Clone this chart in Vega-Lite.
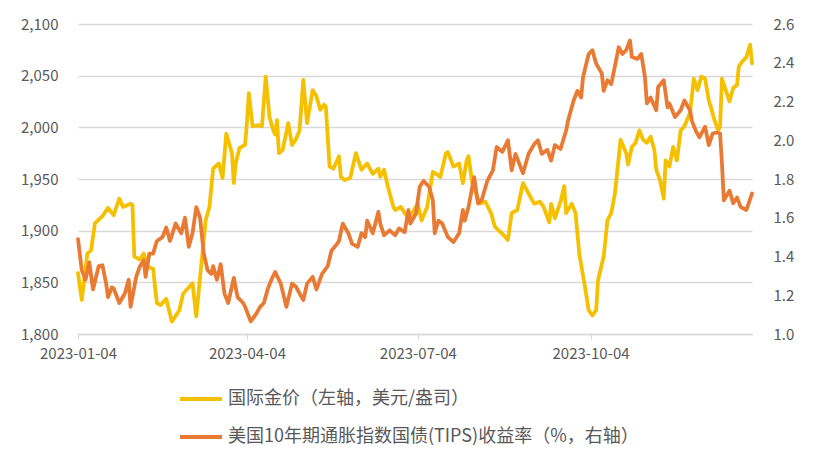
{
  "$schema": "https://vega.github.io/schema/vega-lite/v6.json",
  "width": 674,
  "height": 310,
  "autosize": {"type": "none"},
  "padding": {"left": 78, "top": 24, "right": 62, "bottom": 129},
  "background": "white",
  "config": {
    "view": {"stroke": null},
    "font": "Noto Sans CJK SC",
    "axis": {"labelFont": "Noto Sans CJK SC", "labelFontSize": 15, "labelColor": "#595959", "title": null}
  },
  "datasets": {
    "gold": [
      {"date":"2023-01-04","v":1859},{"date":"2023-01-06","v":1833},{"date":"2023-01-09","v":1878},{"date":"2023-01-11","v":1881},{"date":"2023-01-13","v":1907},{"date":"2023-01-17","v":1914},{"date":"2023-01-20","v":1922},{"date":"2023-01-23","v":1915},{"date":"2023-01-26","v":1931},{"date":"2023-01-28","v":1923},{"date":"2023-02-01","v":1926},{"date":"2023-02-02","v":1925},{"date":"2023-02-03","v":1875},{"date":"2023-02-06","v":1872},{"date":"2023-02-08","v":1878},{"date":"2023-02-10","v":1865},{"date":"2023-02-13","v":1863},{"date":"2023-02-15","v":1830},{"date":"2023-02-17","v":1828},{"date":"2023-02-20","v":1834},{"date":"2023-02-23","v":1812},{"date":"2023-02-27","v":1823},{"date":"2023-03-01","v":1839},{"date":"2023-03-03","v":1843},{"date":"2023-03-06","v":1849},{"date":"2023-03-08","v":1817},{"date":"2023-03-13","v":1910},{"date":"2023-03-15","v":1923},{"date":"2023-03-17","v":1960},{"date":"2023-03-20","v":1965},{"date":"2023-03-22","v":1951},{"date":"2023-03-24","v":1994},{"date":"2023-03-27","v":1975},{"date":"2023-03-28","v":1946},{"date":"2023-03-29","v":1965},{"date":"2023-03-31","v":1980},{"date":"2023-04-03","v":1983},{"date":"2023-04-04","v":2005},{"date":"2023-04-05","v":2033},{"date":"2023-04-07","v":2001},{"date":"2023-04-10","v":2002},{"date":"2023-04-12","v":2001},{"date":"2023-04-14","v":2049},{"date":"2023-04-16","v":2010},{"date":"2023-04-18","v":1997},{"date":"2023-04-19","v":1993},{"date":"2023-04-20","v":2007},{"date":"2023-04-21","v":1975},{"date":"2023-04-23","v":1978},{"date":"2023-04-26","v":2004},{"date":"2023-04-28","v":1983},{"date":"2023-04-30","v":1988},{"date":"2023-05-02","v":1997},{"date":"2023-05-04","v":2046},{"date":"2023-05-06","v":2004},{"date":"2023-05-09","v":2036},{"date":"2023-05-11","v":2030},{"date":"2023-05-13","v":2017},{"date":"2023-05-15","v":2022},{"date":"2023-05-16","v":2020},{"date":"2023-05-18","v":1962},{"date":"2023-05-20","v":1960},{"date":"2023-05-23","v":1972},{"date":"2023-05-24","v":1952},{"date":"2023-05-26","v":1949},{"date":"2023-05-29","v":1951},{"date":"2023-06-01","v":1975},{"date":"2023-06-04","v":1959},{"date":"2023-06-07","v":1965},{"date":"2023-06-10","v":1955},{"date":"2023-06-13","v":1960},{"date":"2023-06-14","v":1952},{"date":"2023-06-16","v":1959},{"date":"2023-06-18","v":1943},{"date":"2023-06-21","v":1923},{"date":"2023-06-22","v":1920},{"date":"2023-06-25","v":1923},{"date":"2023-06-27","v":1917},{"date":"2023-06-30","v":1910},{"date":"2023-07-01","v":1917},{"date":"2023-07-04","v":1926},{"date":"2023-07-06","v":1910},{"date":"2023-07-09","v":1923},{"date":"2023-07-12","v":1957},{"date":"2023-07-16","v":1952},{"date":"2023-07-19","v":1975},{"date":"2023-07-20","v":1976},{"date":"2023-07-23","v":1962},{"date":"2023-07-26","v":1965},{"date":"2023-07-28","v":1946},{"date":"2023-07-30","v":1968},{"date":"2023-07-31","v":1972},{"date":"2023-08-02","v":1946},{"date":"2023-08-04","v":1936},{"date":"2023-08-06","v":1926},{"date":"2023-08-09","v":1928},{"date":"2023-08-12","v":1917},{"date":"2023-08-14","v":1904},{"date":"2023-08-18","v":1897},{"date":"2023-08-21","v":1891},{"date":"2023-08-23","v":1917},{"date":"2023-08-26","v":1920},{"date":"2023-08-29","v":1946},{"date":"2023-09-01","v":1936},{"date":"2023-09-04","v":1926},{"date":"2023-09-07","v":1928},{"date":"2023-09-09","v":1923},{"date":"2023-09-12","v":1908},{"date":"2023-09-13","v":1926},{"date":"2023-09-15","v":1912},{"date":"2023-09-18","v":1928},{"date":"2023-09-20","v":1943},{"date":"2023-09-21","v":1917},{"date":"2023-09-24","v":1926},{"date":"2023-09-26","v":1917},{"date":"2023-09-28","v":1878},{"date":"2023-09-29","v":1867},{"date":"2023-10-01","v":1846},{"date":"2023-10-03","v":1823},{"date":"2023-10-05","v":1818},{"date":"2023-10-07","v":1823},{"date":"2023-10-08","v":1852},{"date":"2023-10-11","v":1875},{"date":"2023-10-13","v":1910},{"date":"2023-10-15","v":1917},{"date":"2023-10-17","v":1936},{"date":"2023-10-20","v":1988},{"date":"2023-10-23","v":1975},{"date":"2023-10-24","v":1964},{"date":"2023-10-26","v":1981},{"date":"2023-10-28","v":1985},{"date":"2023-10-30","v":1997},{"date":"2023-11-01","v":1988},{"date":"2023-11-03","v":1985},{"date":"2023-11-05","v":1991},{"date":"2023-11-07","v":1978},{"date":"2023-11-08","v":1959},{"date":"2023-11-10","v":1949},{"date":"2023-11-12","v":1931},{"date":"2023-11-13","v":1968},{"date":"2023-11-15","v":1962},{"date":"2023-11-17","v":1981},{"date":"2023-11-19","v":1968},{"date":"2023-11-21","v":1997},{"date":"2023-11-23","v":2001},{"date":"2023-11-26","v":2014},{"date":"2023-11-28","v":2047},{"date":"2023-11-30","v":2036},{"date":"2023-12-02","v":2049},{"date":"2023-12-04","v":2047},{"date":"2023-12-06","v":2026},{"date":"2023-12-07","v":2020},{"date":"2023-12-09","v":2007},{"date":"2023-12-11","v":1997},{"date":"2023-12-12","v":2001},{"date":"2023-12-13","v":2047},{"date":"2023-12-15","v":2036},{"date":"2023-12-17","v":2025},{"date":"2023-12-19","v":2038},{"date":"2023-12-21","v":2041},{"date":"2023-12-22","v":2059},{"date":"2023-12-24","v":2064},{"date":"2023-12-26","v":2068},{"date":"2023-12-28","v":2080},{"date":"2023-12-29","v":2062}
    ],
    "tips": [
      {"date":"2023-01-04","v":1.49},{"date":"2023-01-06","v":1.33},{"date":"2023-01-08","v":1.28},{"date":"2023-01-10","v":1.37},{"date":"2023-01-12","v":1.23},{"date":"2023-01-15","v":1.35},{"date":"2023-01-17","v":1.355},{"date":"2023-01-19","v":1.26},{"date":"2023-01-20","v":1.19},{"date":"2023-01-22","v":1.24},{"date":"2023-01-23","v":1.235},{"date":"2023-01-26","v":1.16},{"date":"2023-01-29","v":1.21},{"date":"2023-01-31","v":1.28},{"date":"2023-02-01","v":1.14},{"date":"2023-02-04","v":1.295},{"date":"2023-02-06","v":1.35},{"date":"2023-02-08","v":1.38},{"date":"2023-02-09","v":1.295},{"date":"2023-02-11","v":1.415},{"date":"2023-02-13","v":1.415},{"date":"2023-02-15","v":1.48},{"date":"2023-02-18","v":1.50},{"date":"2023-02-20","v":1.55},{"date":"2023-02-22","v":1.48},{"date":"2023-02-25","v":1.57},{"date":"2023-02-28","v":1.52},{"date":"2023-03-02","v":1.60},{"date":"2023-03-04","v":1.45},{"date":"2023-03-06","v":1.52},{"date":"2023-03-08","v":1.655},{"date":"2023-03-10","v":1.60},{"date":"2023-03-12","v":1.415},{"date":"2023-03-14","v":1.33},{"date":"2023-03-16","v":1.31},{"date":"2023-03-17","v":1.35},{"date":"2023-03-19","v":1.28},{"date":"2023-03-21","v":1.36},{"date":"2023-03-23","v":1.21},{"date":"2023-03-25","v":1.16},{"date":"2023-03-28","v":1.29},{"date":"2023-03-30","v":1.19},{"date":"2023-04-02","v":1.16},{"date":"2023-04-03","v":1.14},{"date":"2023-04-06","v":1.065},{"date":"2023-04-09","v":1.105},{"date":"2023-04-11","v":1.14},{"date":"2023-04-13","v":1.16},{"date":"2023-04-15","v":1.23},{"date":"2023-04-17","v":1.28},{"date":"2023-04-19","v":1.32},{"date":"2023-04-22","v":1.26},{"date":"2023-04-25","v":1.14},{"date":"2023-04-28","v":1.26},{"date":"2023-04-30","v":1.245},{"date":"2023-05-04","v":1.175},{"date":"2023-05-06","v":1.26},{"date":"2023-05-09","v":1.295},{"date":"2023-05-11","v":1.23},{"date":"2023-05-14","v":1.31},{"date":"2023-05-17","v":1.35},{"date":"2023-05-19","v":1.43},{"date":"2023-05-22","v":1.465},{"date":"2023-05-23","v":1.48},{"date":"2023-05-25","v":1.57},{"date":"2023-05-28","v":1.52},{"date":"2023-05-30","v":1.465},{"date":"2023-06-02","v":1.45},{"date":"2023-06-04","v":1.52},{"date":"2023-06-06","v":1.50},{"date":"2023-06-07","v":1.585},{"date":"2023-06-10","v":1.52},{"date":"2023-06-13","v":1.63},{"date":"2023-06-14","v":1.57},{"date":"2023-06-16","v":1.51},{"date":"2023-06-19","v":1.535},{"date":"2023-06-22","v":1.51},{"date":"2023-06-24","v":1.545},{"date":"2023-06-27","v":1.525},{"date":"2023-06-29","v":1.64},{"date":"2023-06-30","v":1.57},{"date":"2023-07-03","v":1.62},{"date":"2023-07-05","v":1.76},{"date":"2023-07-07","v":1.79},{"date":"2023-07-10","v":1.76},{"date":"2023-07-12","v":1.69},{"date":"2023-07-13","v":1.52},{"date":"2023-07-15","v":1.585},{"date":"2023-07-17","v":1.57},{"date":"2023-07-20","v":1.50},{"date":"2023-07-23","v":1.475},{"date":"2023-07-26","v":1.52},{"date":"2023-07-28","v":1.64},{"date":"2023-07-29","v":1.585},{"date":"2023-07-31","v":1.655},{"date":"2023-08-03","v":1.81},{"date":"2023-08-05","v":1.675},{"date":"2023-08-07","v":1.69},{"date":"2023-08-10","v":1.79},{"date":"2023-08-13","v":1.845},{"date":"2023-08-15","v":1.965},{"date":"2023-08-18","v":1.94},{"date":"2023-08-21","v":2.00},{"date":"2023-08-23","v":1.845},{"date":"2023-08-25","v":1.93},{"date":"2023-08-29","v":1.83},{"date":"2023-09-01","v":1.93},{"date":"2023-09-04","v":1.98},{"date":"2023-09-06","v":2.00},{"date":"2023-09-08","v":1.93},{"date":"2023-09-11","v":1.95},{"date":"2023-09-13","v":1.895},{"date":"2023-09-15","v":1.975},{"date":"2023-09-18","v":1.955},{"date":"2023-09-21","v":2.05},{"date":"2023-09-22","v":2.10},{"date":"2023-09-25","v":2.205},{"date":"2023-09-27","v":2.255},{"date":"2023-09-29","v":2.22},{"date":"2023-09-30","v":2.325},{"date":"2023-10-03","v":2.445},{"date":"2023-10-05","v":2.465},{"date":"2023-10-07","v":2.395},{"date":"2023-10-10","v":2.345},{"date":"2023-10-11","v":2.255},{"date":"2023-10-13","v":2.31},{"date":"2023-10-15","v":2.29},{"date":"2023-10-16","v":2.335},{"date":"2023-10-19","v":2.48},{"date":"2023-10-21","v":2.445},{"date":"2023-10-23","v":2.465},{"date":"2023-10-25","v":2.515},{"date":"2023-10-26","v":2.43},{"date":"2023-10-29","v":2.42},{"date":"2023-10-31","v":2.445},{"date":"2023-11-02","v":2.325},{"date":"2023-11-03","v":2.19},{"date":"2023-11-05","v":2.22},{"date":"2023-11-08","v":2.155},{"date":"2023-11-09","v":2.275},{"date":"2023-11-12","v":2.31},{"date":"2023-11-14","v":2.17},{"date":"2023-11-15","v":2.19},{"date":"2023-11-18","v":2.12},{"date":"2023-11-21","v":2.155},{"date":"2023-11-23","v":2.205},{"date":"2023-11-26","v":2.155},{"date":"2023-11-27","v":2.10},{"date":"2023-11-29","v":2.05},{"date":"2023-12-01","v":2.015},{"date":"2023-12-04","v":2.07},{"date":"2023-12-06","v":1.975},{"date":"2023-12-08","v":2.035},{"date":"2023-12-10","v":2.04},{"date":"2023-12-12","v":2.035},{"date":"2023-12-13","v":1.88},{"date":"2023-12-14","v":1.69},{"date":"2023-12-17","v":1.74},{"date":"2023-12-19","v":1.675},{"date":"2023-12-21","v":1.705},{"date":"2023-12-23","v":1.655},{"date":"2023-12-26","v":1.64},{"date":"2023-12-29","v":1.725}
    ]
  },
  "encoding": {
    "x": {
      "field": "date",
      "type": "temporal",
      "scale": {"type": "utc", "domain": [{"year": 2023, "month": 1, "date": 4, "utc": true}, {"year": 2023, "month": 12, "date": 29, "utc": true}], "nice": false},
      "axis": {
        "values": [{"year": 2023, "month": 1, "date": 4, "utc": true}, {"year": 2023, "month": 4, "date": 4, "utc": true}, {"year": 2023, "month": 7, "date": 4, "utc": true}, {"year": 2023, "month": 10, "date": 4, "utc": true}],
        "labelExpr": "utcFormat(datum.value, '%Y-%m-%d')",
        "labelFlush": false,
        "labelOverlap": false,
        "grid": false,
        "domainColor": "#D9D9D9",
        "domainWidth": 1.5,
        "tickColor": "#D9D9D9",
        "tickSize": 5,
        "labelPadding": 7
      }
    }
  },
  "layer": [
    {
      "data": {"name": "gold"},
      "mark": {"type": "line", "strokeWidth": 3.8, "strokeJoin": "round", "strokeCap": "round"},
      "encoding": {
        "y": {
          "field": "v",
          "type": "quantitative",
          "scale": {"domain": [1800, 2100], "zero": false, "nice": false},
          "axis": {"orient": "left", "values": [1800, 1850, 1900, 1950, 2000, 2050, 2100], "labelExpr": "format(datum.value, ',.0f')", "grid": true, "gridColor": "#D9D9D9", "gridWidth": 1.5, "domain": false, "ticks": false, "labelPadding": 20}
        },
        "color": {
          "datum": "国际金价（左轴，美元/盎司）",
          "type": "nominal",
          "scale": {"domain": ["国际金价（左轴，美元/盎司）", "美国10年期通胀指数国债(TIPS)收益率（%，右轴）"], "range": ["#F5C000", "#E87A34"]},
          "legend": {
            "orient": "none",
            "legendX": 100,
            "legendY": 352,
            "direction": "vertical",
            "title": null,
            "symbolType": "stroke",
            "symbolSize": 1764,
            "symbolStrokeWidth": 4,
            "labelFont": "Noto Sans CJK SC",
            "labelFontSize": 18,
            "labelColor": "#595959",
            "labelOffset": 4,
            "rowPadding": 6,
            "labelLimit": 600
          }
        }
      }
    },
    {
      "data": {"name": "tips"},
      "mark": {"type": "line", "strokeWidth": 3.8, "strokeJoin": "round", "strokeCap": "round"},
      "encoding": {
        "y": {
          "field": "v",
          "type": "quantitative",
          "scale": {"domain": [1.0, 2.6], "zero": false, "nice": false},
          "axis": {"orient": "right", "values": [1.0, 1.2, 1.4, 1.6, 1.8, 2.0, 2.2, 2.4, 2.6], "labelExpr": "format(datum.value, '.1f')", "grid": false, "domain": false, "ticks": false, "labelPadding": 21}
        },
        "color": {"datum": "美国10年期通胀指数国债(TIPS)收益率（%，右轴）", "type": "nominal"}
      }
    }
  ],
  "resolve": {"scale": {"y": "independent"}}
}
